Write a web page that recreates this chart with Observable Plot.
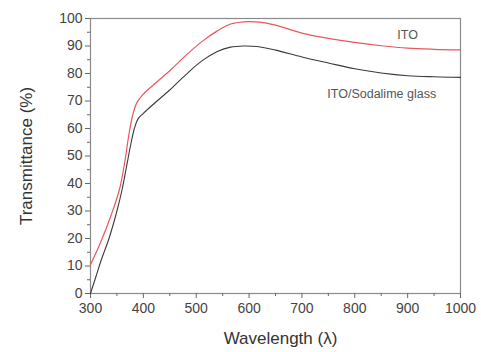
<!DOCTYPE html>
<html>
<head>
<meta charset="utf-8">
<script src="https://cdn.jsdelivr.net/npm/d3@7"></script>
<script src="https://cdn.jsdelivr.net/npm/@observablehq/plot@0.6"></script>
<style>
  html, body { margin: 0; padding: 0; background: #fff; }
  svg { display: block; }
</style>
</head>
<body>
<div id="chart"></div>
<script>
const itoWavelength = [300, 320, 340, 355, 365, 372, 380, 388, 400, 420, 450, 480, 510, 540, 565, 590, 620, 650, 700, 750, 800, 850, 900, 950, 1000];
const itoValues     = [10.5, 19, 29, 38, 48, 57, 65, 69.5, 72.5, 76, 81, 86.5, 91.5, 95.5, 98, 98.8, 98.7, 97.6, 94.7, 92.8, 91.3, 90.1, 89.2, 88.8, 88.6];

const glassWavelength = [300, 310, 320, 335, 350, 360, 368, 376, 383, 390, 400, 420, 450, 480, 510, 540, 565, 590, 615, 650, 700, 750, 800, 850, 900, 950, 1000];
const glassValues     = [0, 6, 12, 20, 30, 38, 46, 54, 60, 63.5, 65.5, 69, 74, 79.5, 84.5, 88, 89.6, 90, 89.8, 88.5, 86, 83.8, 81.7, 80.2, 79.2, 78.8, 78.6];

const xTicks = [300, 400, 500, 600, 700, 800, 900, 1000];
const xMinorTicks = [350, 450, 550, 650, 750, 850, 950];
const yTicks = [0, 10, 20, 30, 40, 50, 60, 70, 80, 90, 100];
const yMinorTicks = [5, 15, 25, 35, 45, 55, 65, 75, 85, 95];

const seriesNames = ["ITO", "ITO/Sodalime glass"];
const labelWavelength = [900, 851];
const labelValue = [94, 72.7];

const ito = itoWavelength.map((w, i) => ({w, v: itoValues[i]}));
const glass = glassWavelength.map((w, i) => ({w, v: glassValues[i]}));
const labels = seriesNames.map((name, i) => ({name, w: labelWavelength[i], v: labelValue[i]}));

const chart = Plot.plot({
  width: 481,
  height: 352,
  marginLeft: 90,
  marginRight: 21,
  marginTop: 18,
  marginBottom: 59,
  style: {fontFamily: "'Liberation Sans', Arial, sans-serif", background: "#fff"},
  x: {domain: [300, 1000], label: null},
  y: {domain: [0, 100], label: null},
  marks: [
    Plot.frame({stroke: "#8a8a8a", strokeWidth: 1.2}),
    Plot.axisX({ticks: xTicks, tickFormat: d => String(d), tickSize: 5, tickPadding: 5, fontSize: 14, fill: "#444", stroke: "#666", label: null}),
    Plot.axisX({ticks: xMinorTicks, tickSize: 3, text: null, stroke: "#666", label: null}),
    Plot.axisY({ticks: yTicks, tickFormat: d => String(d), tickSize: 5, tickPadding: 3, fontSize: 14, fill: "#444", stroke: "#666", label: null}),
    Plot.axisY({ticks: yMinorTicks, tickSize: 3, text: null, stroke: "#666", label: null}),
    Plot.line(glass, {x: "w", y: "v", stroke: "#3a3a3a", strokeWidth: 1.1, curve: "catmull-rom"}),
    Plot.line(ito, {x: "w", y: "v", stroke: "#e8575e", strokeWidth: 1.2, curve: "catmull-rom"}),
    Plot.text(labels, {x: "w", y: "v", text: "name", fontSize: 12.5, fill: "#555", textAnchor: "middle"}),
    Plot.text(["Wavelength (λ)"], {frameAnchor: "bottom", dx: 5, dy: 45, fontSize: 17, fill: "#333", lineAnchor: "middle"}),
    Plot.text(["Transmittance (%)"], {frameAnchor: "left", dx: -64, rotate: -90, fontSize: 17, fill: "#333", lineAnchor: "middle", textAnchor: "middle"})
  ]
});
document.getElementById("chart").appendChild(chart);
</script>
</body>
</html>
